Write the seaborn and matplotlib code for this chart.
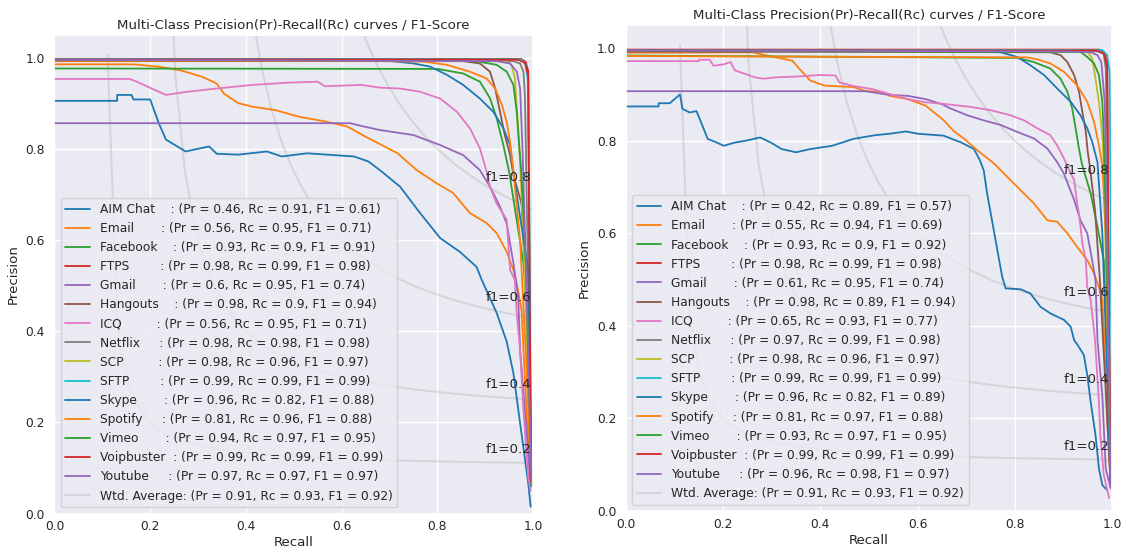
import numpy as np
import matplotlib
matplotlib.use("Agg")
import matplotlib.pyplot as plt
import seaborn as sns

TITLE = "Multi-Class Precision(Pr)-Recall(Rc) curves / F1-Score"
CLASSES = ["AIM Chat", "Email", "Facebook", "FTPS", "Gmail", "Hangouts", "ICQ",
           "Netflix", "SCP", "SFTP", "Skype", "Spotify", "Vimeo", "Voipbuster", "Youtube"]
F_SCORES = [0.2, 0.4, 0.6, 0.8]
X_TICKS = [0.0, 0.2, 0.4, 0.6, 0.8, 1.0]
Y_TICKS = [0.0, 0.2, 0.4, 0.6, 0.8, 1.0]

# ---- legend metrics (left chart) ----
L_PR = [0.46, 0.56, 0.93, 0.98, 0.6, 0.98, 0.56, 0.98, 0.98, 0.99, 0.96, 0.81, 0.94, 0.99, 0.97]
L_RC = [0.91, 0.95, 0.9, 0.99, 0.95, 0.9, 0.95, 0.98, 0.96, 0.99, 0.82, 0.96, 0.97, 0.99, 0.97]
L_F1 = [0.61, 0.71, 0.91, 0.98, 0.74, 0.94, 0.71, 0.98, 0.97, 0.99, 0.88, 0.88, 0.95, 0.99, 0.97]
L_AVG = [0.91, 0.93, 0.92]
# ---- legend metrics (right chart) ----
R_PR = [0.42, 0.55, 0.93, 0.98, 0.61, 0.98, 0.65, 0.97, 0.98, 0.99, 0.96, 0.81, 0.93, 0.99, 0.96]
R_RC = [0.89, 0.94, 0.9, 0.99, 0.95, 0.89, 0.93, 0.99, 0.96, 0.99, 0.82, 0.97, 0.97, 0.99, 0.98]
R_F1 = [0.57, 0.69, 0.92, 0.98, 0.74, 0.94, 0.77, 0.98, 0.97, 0.99, 0.89, 0.88, 0.95, 0.99, 0.97]
R_AVG = [0.91, 0.93, 0.92]

# ---- curves, left chart (recall, precision) ----
L_AIM_RC = [0, 0.131, 0.131, 0.161, 0.165, 0.2, 0.218, 0.233, 0.274, 0.323, 0.339, 0.384, 0.444, 0.475,
            0.528, 0.626, 0.656, 0.68, 0.722, 0.764, 0.806, 0.847, 0.882, 0.893, 0.924, 0.945, 0.959,
            0.973, 0.99, 0.995]
L_AIM_PR = [0.905, 0.905, 0.918, 0.918, 0.908, 0.908, 0.856, 0.82, 0.794, 0.805, 0.789, 0.787, 0.794,
            0.783, 0.79, 0.783, 0.772, 0.753, 0.717, 0.659, 0.604, 0.574, 0.541, 0.512, 0.44, 0.377,
            0.308, 0.198, 0.067, 0.015]
L_EMAIL_RC = [0, 0.165, 0.218, 0.263, 0.308, 0.339, 0.354, 0.384, 0.414, 0.46, 0.512, 0.565, 0.611,
              0.649, 0.717, 0.757, 0.799, 0.833, 0.868, 0.903, 0.924, 0.945, 0.959, 0.966, 0.976, 0.98,
              0.99, 0.997]
L_EMAIL_PR = [0.985, 0.985, 0.98, 0.972, 0.958, 0.943, 0.921, 0.9, 0.892, 0.885, 0.87, 0.86, 0.849,
              0.827, 0.79, 0.753, 0.724, 0.703, 0.659, 0.637, 0.615, 0.574, 0.534, 0.505, 0.446, 0.358,
              0.15, 0.06]
L_FACEBOOK_RC = [0, 0.8, 0.854, 0.889, 0.91, 0.924, 0.938, 0.95, 0.965, 0.98, 0.99, 0.997]
L_FACEBOOK_PR = [0.976, 0.975, 0.965, 0.947, 0.911, 0.867, 0.808, 0.75, 0.65, 0.55, 0.4, 0.06]
L_FTPS_RC = [0, 0.975, 0.985, 0.99, 0.993, 0.995]
L_FTPS_PR = [0.997, 0.997, 0.99, 0.97, 0.5, 0.06]
L_GMAIL_RC = [0, 0.618, 0.641, 0.68, 0.75, 0.806, 0.854, 0.889, 0.91, 0.931, 0.945, 0.959, 0.969,
              0.973, 0.985, 0.995]
L_GMAIL_PR = [0.856, 0.856, 0.85, 0.841, 0.83, 0.808, 0.786, 0.753, 0.717, 0.673, 0.636, 0.549,
              0.475, 0.358, 0.2, 0.06]
L_HANGOUTS_RC = [0, 0.854, 0.889, 0.91, 0.921, 0.931, 0.941, 0.952, 0.959, 0.976, 0.985, 0.995]
L_HANGOUTS_PR = [0.993, 0.992, 0.987, 0.969, 0.932, 0.881, 0.83, 0.786, 0.742, 0.68, 0.5, 0.06]
L_ICQ_RC = [0, 0.157, 0.172, 0.203, 0.233, 0.278, 0.339, 0.414, 0.49, 0.55, 0.565, 0.641, 0.68,
            0.722, 0.764, 0.806, 0.841, 0.868, 0.889, 0.903, 0.91, 0.924, 0.945, 0.952, 0.962, 0.966,
            0.973, 0.98, 0.99, 0.995]
L_ICQ_PR = [0.953, 0.953, 0.947, 0.932, 0.918, 0.925, 0.932, 0.94, 0.945, 0.947, 0.937, 0.94, 0.934,
            0.932, 0.925, 0.91, 0.881, 0.845, 0.801, 0.75, 0.717, 0.68, 0.644, 0.534, 0.512, 0.439,
            0.359, 0.227, 0.08, 0.05]
L_NETFLIX_RC = [0, 0.959, 0.973, 0.98, 0.983, 0.985, 0.99, 0.997]
L_NETFLIX_PR = [0.993, 0.992, 0.987, 0.969, 0.918, 0.808, 0.5, 0.06]
L_SCP_RC = [0, 0.945, 0.955, 0.962, 0.969, 0.973, 0.98, 0.99, 0.997]
L_SCP_PR = [0.994, 0.992, 0.984, 0.955, 0.845, 0.771, 0.6, 0.3, 0.06]
L_SFTP_RC = [0, 0.975, 0.985, 0.989, 0.992, 0.996]
L_SFTP_PR = [0.996, 0.996, 0.985, 0.95, 0.7, 0.06]
L_SKYPE_RC = [0, 0.68, 0.715, 0.75, 0.785, 0.82, 0.854, 0.889, 0.917, 0.938, 0.952, 0.959, 0.973,
              0.99, 0.997]
L_SKYPE_PR = [0.995, 0.994, 0.991, 0.987, 0.98, 0.962, 0.94, 0.91, 0.881, 0.845, 0.808, 0.75, 0.65,
              0.534, 0.06]
L_SPOTIFY_RC = [0, 0.68, 0.771, 0.82, 0.868, 0.903, 0.921, 0.935, 0.945, 0.952, 0.959, 0.973, 0.985,
                0.997]
L_SPOTIFY_PR = [0.992, 0.992, 0.991, 0.984, 0.969, 0.954, 0.932, 0.896, 0.859, 0.815, 0.75, 0.6,
                0.35, 0.06]
L_VIMEO_RC = [0, 0.875, 0.924, 0.945, 0.959, 0.966, 0.971, 0.976, 0.985, 0.997]
L_VIMEO_PR = [0.994, 0.993, 0.984, 0.969, 0.94, 0.881, 0.808, 0.742, 0.55, 0.06]
L_VOIP_RC = [0, 0.97, 0.983, 0.99, 0.992, 0.996]
L_VOIP_PR = [0.995, 0.995, 0.988, 0.96, 0.6, 0.07]
L_YOUTUBE_RC = [0, 0.924, 0.952, 0.966, 0.973, 0.978, 0.985, 0.997]
L_YOUTUBE_PR = [0.995, 0.992, 0.987, 0.969, 0.932, 0.8, 0.55, 0.06]

# ---- curves, right chart (recall, precision) ----
R_AIM_RC = [0, 0.067, 0.067, 0.09, 0.1, 0.111, 0.116, 0.131, 0.145, 0.157, 0.168, 0.187, 0.201, 0.224,
            0.246, 0.276, 0.298, 0.32, 0.35, 0.379, 0.424, 0.468, 0.513, 0.542, 0.576, 0.601, 0.653,
            0.69, 0.716, 0.728, 0.736, 0.743, 0.753, 0.764, 0.774, 0.781, 0.812, 0.832, 0.853, 0.873,
            0.901, 0.915, 0.922, 0.929, 0.942, 0.949, 0.956, 0.966, 0.973, 0.98, 0.99]
R_AIM_PR = [0.874, 0.874, 0.881, 0.881, 0.89, 0.9, 0.869, 0.861, 0.864, 0.833, 0.804, 0.796, 0.789,
            0.796, 0.8, 0.807, 0.796, 0.782, 0.775, 0.782, 0.789, 0.804, 0.812, 0.815, 0.82, 0.815,
            0.811, 0.796, 0.782, 0.758, 0.736, 0.686, 0.628, 0.564, 0.506, 0.481, 0.479, 0.47, 0.441,
            0.427, 0.413, 0.398, 0.369, 0.359, 0.337, 0.294, 0.236, 0.164, 0.092, 0.056, 0.045]
R_EMAIL_RC = [0, 0.261, 0.29, 0.342, 0.357, 0.379, 0.409, 0.468, 0.49, 0.527, 0.542, 0.579, 0.616,
              0.653, 0.675, 0.695, 0.722, 0.757, 0.791, 0.812, 0.839, 0.867, 0.887, 0.908, 0.928,
              0.949, 0.963, 0.973, 0.98, 0.983, 0.99, 0.997]
R_EMAIL_PR = [0.99, 0.991, 0.984, 0.973, 0.955, 0.93, 0.919, 0.916, 0.908, 0.905, 0.897, 0.89, 0.876,
              0.845, 0.82, 0.805, 0.78, 0.751, 0.715, 0.693, 0.665, 0.628, 0.625, 0.6, 0.571, 0.542,
              0.513, 0.484, 0.456, 0.398, 0.2, 0.06]
R_FACEBOOK_RC = [0, 0.805, 0.839, 0.873, 0.894, 0.908, 0.918, 0.925, 0.932, 0.938, 0.956, 0.97, 0.983,
                 0.99, 0.997]
R_FACEBOOK_PR = [0.984, 0.979, 0.97, 0.956, 0.934, 0.906, 0.87, 0.827, 0.783, 0.75, 0.686, 0.614,
                 0.542, 0.4, 0.06]
R_FTPS_RC = [0, 0.975, 0.985, 0.99, 0.993, 0.996]
R_FTPS_PR = [0.997, 0.997, 0.99, 0.97, 0.5, 0.06]
R_GMAIL_RC = [0, 0.49, 0.505, 0.542, 0.579, 0.616, 0.65, 0.667, 0.702, 0.736, 0.771, 0.805, 0.839,
              0.867, 0.887, 0.901, 0.922, 0.935, 0.949, 0.959, 0.966, 0.97, 0.98, 0.987, 0.997]
R_GMAIL_PR = [0.907, 0.907, 0.905, 0.899, 0.897, 0.89, 0.879, 0.87, 0.855, 0.844, 0.834, 0.819, 0.805,
              0.783, 0.754, 0.729, 0.672, 0.628, 0.6, 0.542, 0.499, 0.369, 0.25, 0.092, 0.05]
R_HANGOUTS_RC = [0, 0.873, 0.894, 0.908, 0.922, 0.932, 0.939, 0.946, 0.95, 0.954, 0.965, 0.975, 0.99,
                 0.997]
R_HANGOUTS_PR = [0.993, 0.991, 0.985, 0.97, 0.942, 0.906, 0.862, 0.819, 0.776, 0.747, 0.65, 0.5, 0.2,
                 0.06]
R_ICQ_RC = [0, 0.15, 0.15, 0.172, 0.18, 0.201, 0.215, 0.224, 0.246, 0.265, 0.283, 0.31, 0.357, 0.4,
            0.431, 0.439, 0.468, 0.505, 0.542, 0.579, 0.616, 0.65, 0.709, 0.75, 0.791, 0.819, 0.846,
            0.873, 0.887, 0.901, 0.91, 0.922, 0.928, 0.932, 0.939, 0.946, 0.949, 0.956, 0.965, 0.973,
            0.976, 0.983, 0.994]
R_ICQ_PR = [0.972, 0.972, 0.975, 0.975, 0.962, 0.965, 0.97, 0.952, 0.944, 0.937, 0.934, 0.937, 0.939,
            0.942, 0.941, 0.926, 0.918, 0.912, 0.901, 0.89, 0.883, 0.88, 0.873, 0.866, 0.855, 0.844,
            0.827, 0.812, 0.79, 0.762, 0.74, 0.715, 0.665, 0.643, 0.578, 0.542, 0.484, 0.456, 0.37,
            0.236, 0.164, 0.078, 0.028]
R_NETFLIX_RC = [0, 0.97, 0.983, 0.987, 0.99, 0.995, 0.998]
R_NETFLIX_PR = [0.993, 0.993, 0.988, 0.956, 0.81, 0.3, 0.06]
R_SCP_RC = [0, 0.949, 0.959, 0.966, 0.973, 0.98, 0.983, 0.99, 0.997]
R_SCP_PR = [0.994, 0.993, 0.978, 0.934, 0.884, 0.812, 0.75, 0.4, 0.06]
R_SFTP_RC = [0, 0.98, 0.99, 0.995, 0.998, 1.0]
R_SFTP_PR = [0.996, 0.996, 0.985, 0.95, 0.5, 0.06]
R_SKYPE_RC = [0, 0.72, 0.771, 0.805, 0.832, 0.86, 0.887, 0.915, 0.935, 0.949, 0.959, 0.97, 0.98, 0.99,
              0.997]
R_SKYPE_PR = [0.995, 0.994, 0.991, 0.981, 0.963, 0.942, 0.913, 0.884, 0.855, 0.827, 0.798, 0.754, 0.6,
              0.3, 0.06]
R_SPOTIFY_RC = [0, 0.825, 0.846, 0.873, 0.901, 0.928, 0.949, 0.963, 0.973, 0.98, 0.987, 0.993, 0.998]
R_SPOTIFY_PR = [0.983, 0.98, 0.976, 0.967, 0.949, 0.92, 0.884, 0.841, 0.79, 0.747, 0.6, 0.3, 0.06]
R_VIMEO_RC = [0, 0.935, 0.949, 0.963, 0.973, 0.98, 0.983, 0.99, 0.997]
R_VIMEO_PR = [0.994, 0.992, 0.981, 0.967, 0.942, 0.884, 0.812, 0.5, 0.06]
R_VOIP_RC = [0, 0.97, 0.983, 0.99, 0.992, 0.997]
R_VOIP_PR = [0.995, 0.995, 0.988, 0.96, 0.6, 0.07]
R_YOUTUBE_RC = [0, 0.908, 0.956, 0.97, 0.978, 0.985, 0.99, 0.997]
R_YOUTUBE_PR = [0.995, 0.993, 0.991, 0.985, 0.97, 0.884, 0.6, 0.05]

LEFT_CURVES = [(L_AIM_RC, L_AIM_PR), (L_EMAIL_RC, L_EMAIL_PR), (L_FACEBOOK_RC, L_FACEBOOK_PR),
               (L_FTPS_RC, L_FTPS_PR), (L_GMAIL_RC, L_GMAIL_PR), (L_HANGOUTS_RC, L_HANGOUTS_PR),
               (L_ICQ_RC, L_ICQ_PR), (L_NETFLIX_RC, L_NETFLIX_PR), (L_SCP_RC, L_SCP_PR),
               (L_SFTP_RC, L_SFTP_PR), (L_SKYPE_RC, L_SKYPE_PR), (L_SPOTIFY_RC, L_SPOTIFY_PR),
               (L_VIMEO_RC, L_VIMEO_PR), (L_VOIP_RC, L_VOIP_PR), (L_YOUTUBE_RC, L_YOUTUBE_PR)]
RIGHT_CURVES = [(R_AIM_RC, R_AIM_PR), (R_EMAIL_RC, R_EMAIL_PR), (R_FACEBOOK_RC, R_FACEBOOK_PR),
                (R_FTPS_RC, R_FTPS_PR), (R_GMAIL_RC, R_GMAIL_PR), (R_HANGOUTS_RC, R_HANGOUTS_PR),
                (R_ICQ_RC, R_ICQ_PR), (R_NETFLIX_RC, R_NETFLIX_PR), (R_SCP_RC, R_SCP_PR),
                (R_SFTP_RC, R_SFTP_PR), (R_SKYPE_RC, R_SKYPE_PR), (R_SPOTIFY_RC, R_SPOTIFY_PR),
                (R_VIMEO_RC, R_VIMEO_PR), (R_VOIP_RC, R_VOIP_PR), (R_YOUTUBE_RC, R_YOUTUBE_PR)]

sns.set_theme(style="darkgrid", font_scale=0.8)
plt.rcParams["font.family"] = ["DejaVu Sans"]
palette = sns.color_palette("tab10", 10)

fig = plt.figure(figsize=(11.3, 5.52), dpi=100)
ax_l = fig.add_axes([0.0482, 0.0697, 0.4235, 0.8674])
ax_r = fig.add_axes([0.554, 0.0743, 0.4301, 0.8804])


def draw(ax, curves, prs, rcs, f1s, avg):
    iso_handle = None
    for f in F_SCORES:
        x = np.linspace(0.01, 1)
        y = f * x / (2 * x - f)
        sns.lineplot(x=x[y >= 0], y=y[y >= 0], color="gray", alpha=0.2, lw=1.5,
                     sort=False, estimator=None, ax=ax)
        if iso_handle is None:
            iso_handle = ax.lines[-1]
        ax.annotate("f1={0:0.1f}".format(f), xy=(0.9, y[45] + 0.02))
    handles, labels = [], []
    for i, (name, (rc, pr)) in enumerate(zip(CLASSES, curves)):
        sns.lineplot(x=rc, y=pr, color=palette[i % 10], lw=1.3, sort=False,
                     estimator=None, ax=ax)
        handles.append(ax.lines[-1])
        labels.append("{:<12}: (Pr = {}, Rc = {}, F1 = {})".format(name, prs[i], rcs[i], f1s[i]))
    handles.append(iso_handle)
    labels.append("Wtd. Average: (Pr = {}, Rc = {}, F1 = {})".format(*avg))
    ax.legend(handles, labels, loc="lower left")
    ax.set_xlim(0.0, 1.0)
    ax.set_ylim(0.0, 1.05)
    ax.set_xticks(X_TICKS)
    ax.set_yticks(Y_TICKS)
    ax.tick_params(axis="x", length=0, pad=5)
    ax.tick_params(axis="y", length=0, pad=7)
    ax.set_xlabel("Recall", labelpad=2)
    ax.set_ylabel("Precision", labelpad=4)
    ax.set_title(TITLE, pad=4.8)


draw(ax_l, LEFT_CURVES, L_PR, L_RC, L_F1, L_AVG)
draw(ax_r, RIGHT_CURVES, R_PR, R_RC, R_F1, R_AVG)

fig.savefig("out.png", dpi=100)
